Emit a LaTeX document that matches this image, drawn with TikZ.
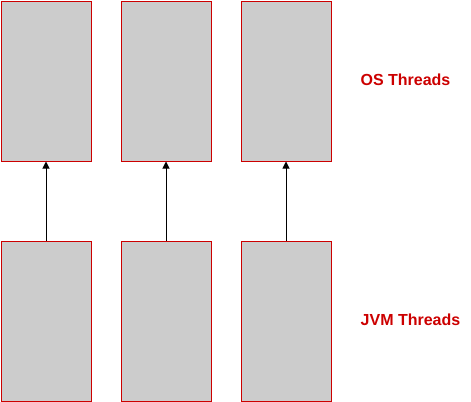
\documentclass[tikz,border=0pt]{standalone}
\usepackage{fontspec}
\setmainfont{Liberation Sans}
\usetikzlibrary{arrows.meta}
\definecolor{boxred}{HTML}{CC0000}
\definecolor{boxgray}{HTML}{CCCCCC}
\begin{document}
\begin{tikzpicture}[x=0.75pt,y=-0.75pt,
  thread/.style={draw=boxred,fill=boxgray,line width=0.75pt,minimum width=67.5pt,minimum height=120pt,inner sep=0pt,anchor=north west},
  lbl/.style={text=boxred,font=\bfseries\fontsize{12pt}{14pt}\selectfont},
  conn/.style={line width=0.75pt,-{Triangle[length=5.25pt,width=5.25pt]}}]
\useasboundingbox (0,0) rectangle (471,401);
\node[thread] (o1) at (0.5,0.5) {};
\node[thread] (o2) at (120.5,0.5) {};
\node[thread] (o3) at (240.5,0.5) {};
\node[thread] (j1) at (0.5,240.5) {};
\node[thread] (j2) at (120.5,240.5) {};
\node[thread] (j3) at (240.5,240.5) {};
\node[lbl] (os) at (405.5,80) {OS Threads};
\node[lbl] (jvm) at (410.5,320) {JVM Threads};
\draw[conn] (j1.north) -- (o1.south);
\draw[conn] (j2.north) -- (o2.south);
\draw[conn] (j3.north) -- (o3.south);
\end{tikzpicture}
\end{document}
